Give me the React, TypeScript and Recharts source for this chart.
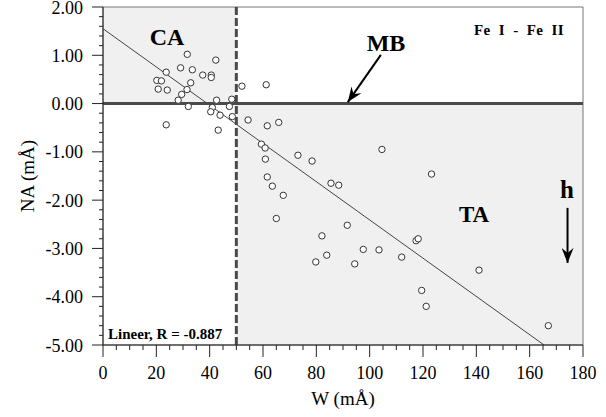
import {
  ReferenceArea,
  ReferenceLine,
  Scatter,
  ScatterChart,
  XAxis,
  YAxis,
  Label,
} from "recharts";

const SERIF = "'Liberation Serif', 'Times New Roman', serif";

// W (mÅ) values
const wValues = [
  31.6, 42.3, 29.1, 33.5, 23.7, 37.4, 40.6, 40.6, 20.2, 21.9, 32.9, 20.7, 24.1,
  31.5, 29.5, 28.2, 42.6, 48.3, 32.0, 41.0, 47.4, 40.4, 43.9, 48.5, 23.7, 43.2,
  52.1, 61.2, 54.4, 61.6, 65.9, 59.4, 60.8, 60.9, 73.1, 78.4, 61.6, 63.5, 85.5,
  88.4, 67.6, 65.0, 91.6, 104.6, 123.2, 82.1, 83.9, 79.8, 94.4, 97.6, 103.5,
  112.0, 117.4, 118.2, 141.0, 119.5, 121.2, 167.0,
];

// NA (mÅ) values
const naValues = [
  1.02, 0.9, 0.74, 0.7, 0.65, 0.59, 0.59, 0.54, 0.48, 0.47, 0.43, 0.3, 0.28,
  0.29, 0.19, 0.07, 0.07, 0.09, -0.06, -0.08, -0.06, -0.17, -0.24, -0.27, -0.44,
  -0.55, 0.36, 0.39, -0.34, -0.46, -0.39, -0.84, -0.92, -1.15, -1.07, -1.19,
  -1.52, -1.71, -1.65, -1.69, -1.9, -2.38, -2.52, -0.95, -1.46, -2.74, -3.14,
  -3.28, -3.32, -3.02, -3.03, -3.18, -2.84, -2.8, -3.45, -3.87, -4.2, -4.6,
];

// linear fit shown on the plot
const fitIntercept = 1.55;
const fitSlope = -0.0396;

const xMajorTicks = [0, 20, 40, 60, 80, 100, 120, 140, 160, 180];
const yMajorTicks = [-5, -4, -3, -2, -1, 0, 1, 2];
const xMinorStep = 5;
const yMinorStep = 0.2;

const xTicks: number[] = [];
for (let v = 0; v <= 180; v += xMinorStep) xTicks.push(v);
const yTicks: number[] = [];
for (let i = 0; i <= 35; i++) yTicks.push(Math.round((-5 + i * yMinorStep) * 10) / 10);

const points = wValues.map((w, i) => ({ w, na: naValues[i] }));

const fitEndX = (-5 - fitIntercept) / fitSlope;

const XTick = (props: any) => {
  const { x, y, payload } = props;
  const v = payload.value;
  const major = xMajorTicks.includes(v);
  return (
    <g>
      <line x1={x} x2={x} y1={y} y2={y + (major ? 12 : 5)} stroke="#222" />
      {major && (
        <text x={x} y={y + 34} textAnchor="middle" fontSize={18} fontFamily={SERIF} fill="#000">
          {v}
        </text>
      )}
    </g>
  );
};

const YTick = (props: any) => {
  const { x, y, payload } = props;
  const v = payload.value;
  const major = yMajorTicks.some((m) => Math.abs(m - v) < 1e-6);
  return (
    <g>
      <line x1={x - (major ? 11 : 4)} x2={x} y1={y} y2={y} stroke="#222" />
      {major && (
        <text x={x - 20} y={y + 6.5} textAnchor="end" fontSize={18} fontFamily={SERIF} fill="#000">
          {v.toFixed(2)}
        </text>
      )}
    </g>
  );
};

const ArrowLine = (props: any) => (
  <line
    x1={props.x1}
    y1={props.y1}
    x2={props.x2}
    y2={props.y2}
    stroke="#000"
    strokeWidth={2}
    markerEnd="url(#barb)"
  />
);

export default function App() {
  return (
    <div
      style={{
        position: "absolute",
        left: 0,
        top: 0,
        width: 606,
        height: 417,
        fontFamily: SERIF,
        background: "#fff",
      }}
    >
      <ScatterChart
        width={606}
        height={417}
        margin={{ top: 7, right: 23, bottom: 0, left: 0 }}
        style={{ fontFamily: SERIF }}
      >
        <XAxis
          type="number"
          dataKey="w"
          domain={[0, 180]}
          ticks={xTicks}
          interval={0}
          height={72}
          tickSize={0}
          tickMargin={0}
          tick={<XTick />}
          axisLine={{ stroke: "#222" }}
          allowDataOverflow
        >
          <Label
            value="W (mÅ)"
            position="insideBottom"
            offset={12}
            fontSize={19}
            fontFamily={SERIF}
            fill="#000"
          />
        </XAxis>
        <YAxis
          type="number"
          dataKey="na"
          domain={[-5, 2]}
          ticks={yTicks}
          interval={0}
          width={103}
          tickSize={0}
          tickMargin={0}
          tick={<YTick />}
          axisLine={{ stroke: "#222" }}
          allowDataOverflow
        >
          <Label
            value="NA (mÅ)"
            angle={-90}
            position="insideLeft"
            offset={27}
            fontSize={19}
            fontFamily={SERIF}
            fill="#000"
            style={{ textAnchor: "middle", fontFamily: SERIF }}
          />
        </YAxis>

        <ReferenceArea x1={0} x2={50} y1={0} y2={2} fill="#f0f0f0" fillOpacity={1} stroke="none" />
        <ReferenceArea x1={50} x2={180} y1={-5} y2={0} fill="#f0f0f0" fillOpacity={1} stroke="none" />
        <ReferenceArea x1={0} x2={180} y1={-5} y2={2} fill="none" stroke="#777" strokeWidth={1} />

        <ReferenceLine
          segment={[
            { x: 0, y: fitIntercept },
            { x: fitEndX, y: -5 },
          ]}
          stroke="#444"
          strokeWidth={1}
        />
        <ReferenceLine y={0} stroke="#4a4a4a" strokeWidth={3} />
        <ReferenceLine x={50} stroke="#4a4a4a" strokeWidth={3} strokeDasharray="8 3" />

        <ReferenceLine
          segment={[
            { x: 104.2, y: 1.01 },
            { x: 91.8, y: 0.03 },
          ]}
          shape={ArrowLine}
        />
        <ReferenceLine
          segment={[
            { x: 174.2, y: -2.16 },
            { x: 174.2, y: -3.3 },
          ]}
          shape={ArrowLine}
        />

        <Scatter
          data={points}
          isAnimationActive={false}
          shape={(p: any) => (
            <circle cx={p.cx} cy={p.cy} r={3.2} fill="#fff" stroke="#333" strokeWidth={1} />
          )}
        />
      </ScatterChart>

      <svg
        width={606}
        height={417}
        style={{ position: "absolute", left: 0, top: 0, pointerEvents: "none" }}
      >
        <defs>
          <marker
            id="barb"
            markerUnits="userSpaceOnUse"
            markerWidth={16}
            markerHeight={12}
            refX={15}
            refY={6}
            orient="auto"
          >
            <path d="M0,0 L15,6 L0,12 L5,6 Z" fill="#000" />
          </marker>
        </defs>
        <g fontFamily={SERIF} fontWeight="bold" fill="#000">
          <text x={167} y={45} fontSize={24} textAnchor="middle">CA</text>
          <text x={386} y={51} fontSize={24} textAnchor="middle">MB</text>
          <text x={519} y={35} fontSize={15} textAnchor="middle" letterSpacing={0.4} wordSpacing={4}>
            Fe I - Fe II
          </text>
          <text x={474} y={222} fontSize={23} textAnchor="middle">TA</text>
          <text x={567} y={198} fontSize={25} textAnchor="middle">h</text>
          <text x={108} y={339} fontSize={15}>Lineer, R = -0.887</text>
        </g>
      </svg>
    </div>
  );
}
